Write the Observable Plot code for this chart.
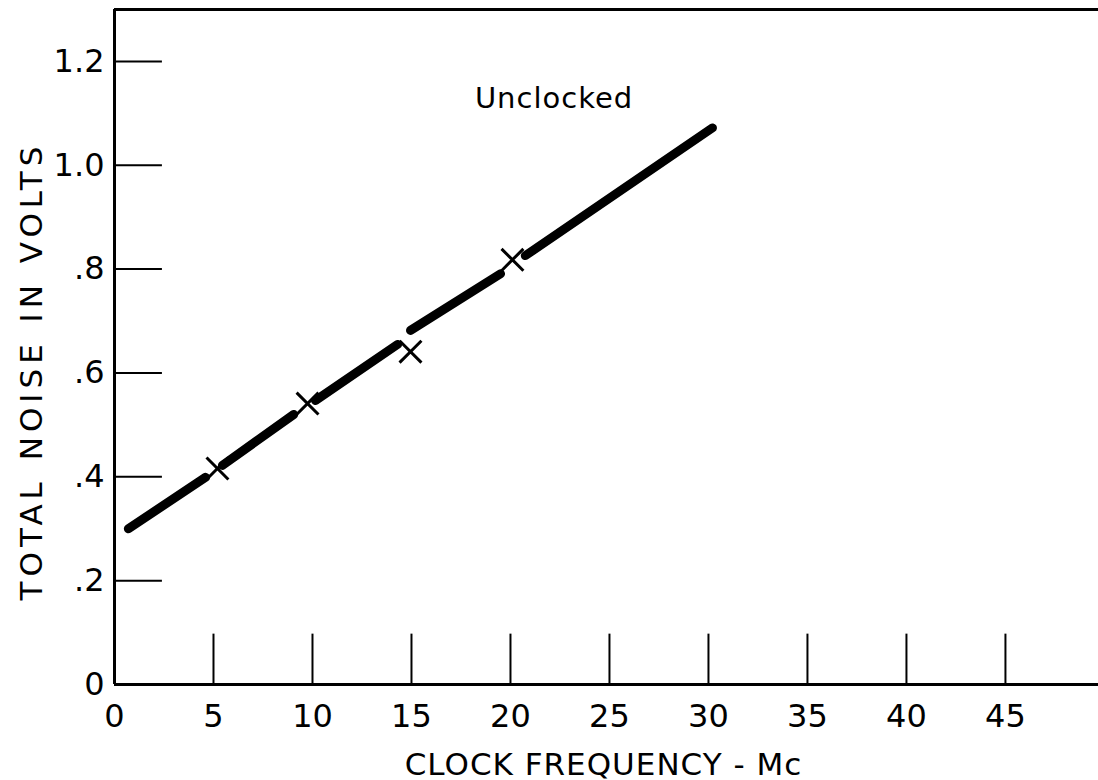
<!DOCTYPE html>
<html>
<head>
<meta charset="utf-8">
<script src="https://cdn.jsdelivr.net/npm/d3@7"></script>
<script src="https://cdn.jsdelivr.net/npm/@observablehq/plot@0.6"></script>
<style>
  html, body { margin: 0; padding: 0; background: #fff; overflow: hidden; }
  #chart { width: 1098px; height: 780px; }
  svg { font-family: "DejaVu Sans", sans-serif; }
</style>
</head>
<body>
<div id="chart"></div>
<script>
// Measured points (X markers)
const pointFreq = [5.2, 9.75, 14.95, 20.1];
const pointNoise = [0.416, 0.541, 0.641, 0.818];

// Hand-drawn fitted line, broken around the markers (segment id, x, y)
const lineSeg   = [1, 1, 2, 2, 3, 3, 4, 4, 5, 5];
const lineFreq  = [0.7, 4.6, 5.45, 9.05, 10.15, 14.3, 14.95, 19.5, 20.75, 30.2];
const lineNoise = [0.300, 0.399, 0.422, 0.520, 0.547, 0.655, 0.682, 0.791, 0.826, 1.072];

// Axis ticks and labels
const xTicks = [0, 5, 10, 15, 20, 25, 30, 35, 40, 45];
const yTicks = [0, 0.2, 0.4, 0.6, 0.8, 1.0, 1.2];
const yTickLabels = ["0", ".2", ".4", ".6", ".8", "1.0", "1.2"];

const curveLabel = "Unclocked";
const curveLabelPos = [22.2, 1.128];
const xTitle = "CLOCK FREQUENCY - Mc";
const yTitle = "TOTAL NOISE IN VOLTS";

const points = pointFreq.map((f, i) => ({freq: f, noise: pointNoise[i]}));
const line = lineFreq.map((f, i) => ({seg: lineSeg[i], freq: f, noise: lineNoise[i]}));

const chart = Plot.plot({
  width: 1098,
  height: 780,
  marginLeft: 114,
  marginRight: 0,
  marginTop: 9,
  marginBottom: 96,
  style: {background: "#fff", color: "#000", fontFamily: "DejaVu Sans, sans-serif"},
  x: {domain: [0, 49.7], label: null},
  y: {domain: [0, 1.3], label: null},
  marks: [
    // frame: left, bottom, top
    Plot.ruleX([0], {stroke: "#000", strokeWidth: 3}),
    Plot.ruleY([0], {stroke: "#000", strokeWidth: 3}),
    Plot.ruleY([1.3], {stroke: "#000", strokeWidth: 3}),
    // inward ticks
    Plot.ruleY(yTicks.filter(d => d > 0), {x1: 0, x2: 2.42, stroke: "#000", strokeWidth: 2}),
    Plot.ruleX(xTicks.filter(d => d > 0), {y1: 0, y2: 0.097, stroke: "#000", strokeWidth: 2}),
    // tick labels
    Plot.axisY(yTicks, {
      tickSize: 0, tickPadding: 10, fontSize: 32,
      tickFormat: (d, i) => yTickLabels[i], label: null
    }),
    Plot.axisX(xTicks, {
      tickSize: 0, tickPadding: 20, fontSize: 32, label: null
    }),
    // axis titles
    Plot.text([yTitle], {
      frameAnchor: "left", textAnchor: "middle", dx: -82, dy: 24, rotate: -90,
      fontSize: 31, fill: "#000"
    }),
    Plot.text([xTitle], {
      frameAnchor: "bottom", dx: -3, dy: 90,
      fontSize: 31, fill: "#000"
    }),
    // curve label
    Plot.text([curveLabel], {
      x: () => curveLabelPos[0], y: () => curveLabelPos[1],
      fontSize: 29, fill: "#000"
    }),
    // fitted line
    Plot.line(line, {
      x: "freq", y: "noise", z: "seg",
      stroke: "#000", strokeWidth: 9, strokeLinecap: "round"
    }),
    // measured points
    Plot.dot(points, {
      x: "freq", y: "noise", symbol: "times", r: 10,
      stroke: "#000", strokeWidth: 3
    })
  ]
});

// letter spacing of the hand lettering
const sel = d3.select(chart).selectAll("text");
sel.filter(function () { return this.textContent === yTitle; })
  .style("letter-spacing", "5px").style("word-spacing", "2px");
sel.filter(function () { return this.textContent === xTitle; })
  .style("letter-spacing", "1px");
sel.filter(function () { return this.textContent === curveLabel; })
  .style("letter-spacing", "1px");

document.getElementById("chart").appendChild(chart);
</script>
</body>
</html>
